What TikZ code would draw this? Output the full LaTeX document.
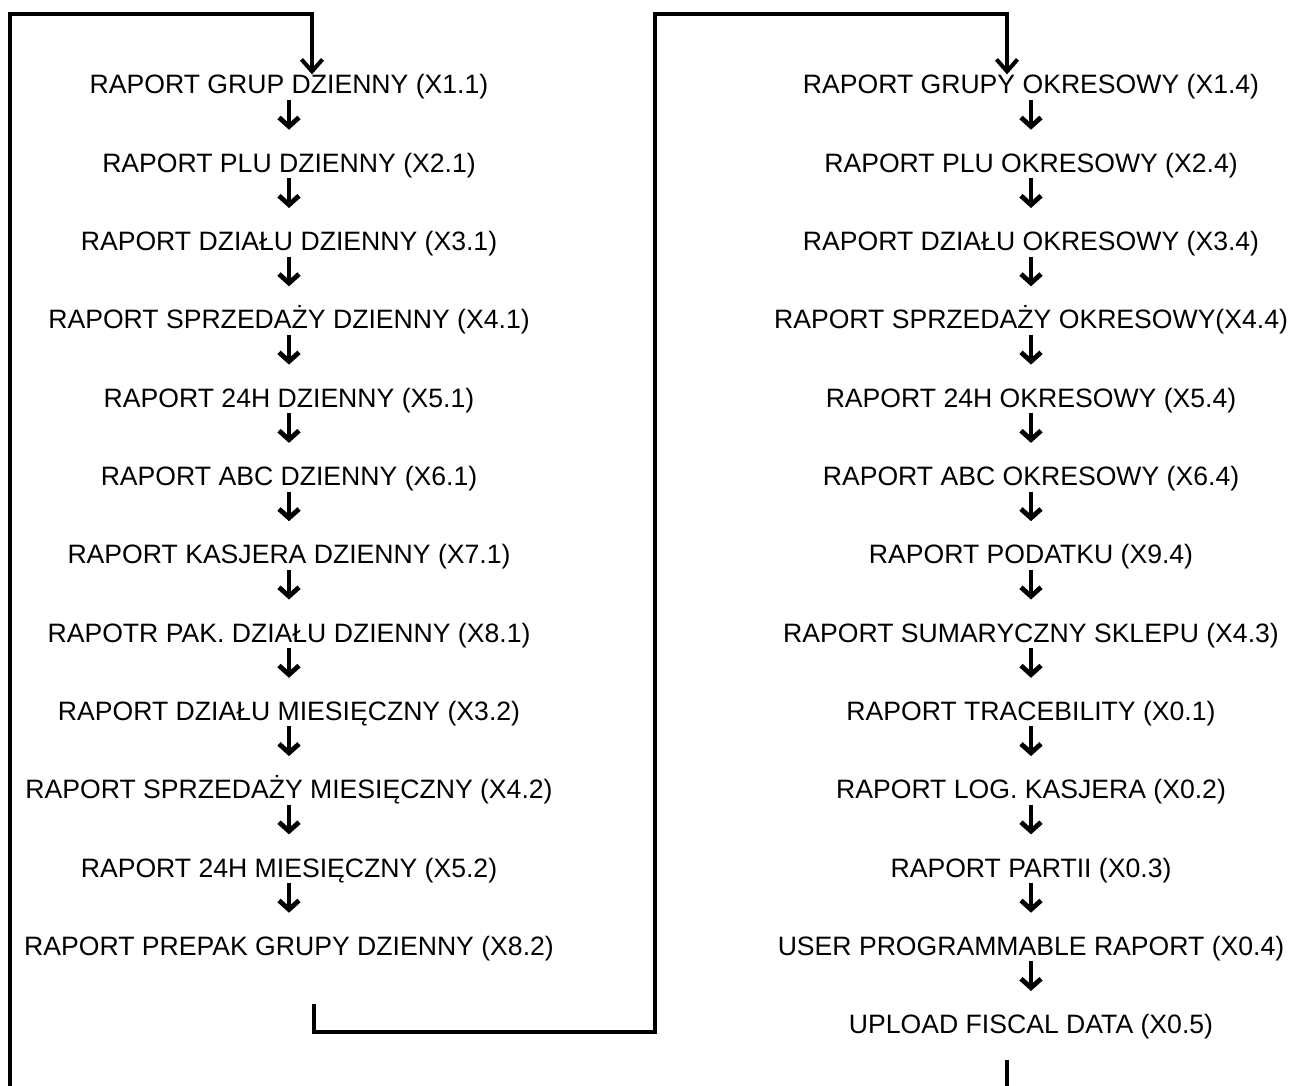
\documentclass[tikz,border=0pt]{standalone}
\usepackage{fontspec}
\setmainfont{Liberation Sans}
\usetikzlibrary{arrows.meta,positioning,calc}

\begin{document}
\begin{tikzpicture}[x=.5pt,y=-.5pt,
  rap/.style={anchor=base,inner sep=0,text height=9.6pt,text depth=2.8pt,
    font=\fontsize{13.3}{16}\selectfont},
  sm/.style={line width=1.7pt,-{Straight Barb[length=4.5pt,width=10pt,line width=2.4pt]},shorten >=11.5pt},
  big/.style={line width=2pt},
  bigtip/.style={big,-{Straight Barb[length=6pt,width=10.5pt]}}]
  \useasboundingbox (0,0) rectangle (1292,1086);
  % left column
  \foreach \t [count=\i] in {RAPORT GRUP DZIENNY (X1.1),RAPORT PLU DZIENNY (X2.1),
    RAPORT DZIAŁU DZIENNY (X3.1),RAPORT SPRZEDAŻY DZIENNY (X4.1),
    RAPORT 24H DZIENNY (X5.1),RAPORT ABC DZIENNY (X6.1),
    RAPORT KASJERA DZIENNY (X7.1),RAPOTR PAK. DZIAŁU DZIENNY (X8.1),
    RAPORT DZIAŁU MIESIĘCZNY (X3.2),RAPORT SPRZEDAŻY MIESIĘCZNY (X4.2),
    RAPORT 24H MIESIĘCZNY (X5.2),RAPORT PREPAK GRUPY DZIENNY (X8.2)}
    \node[rap] (l\i) at (289,{94+(\i-1)*78.3}) {\t};
  % right column
  \foreach \t [count=\i] in {RAPORT GRUPY OKRESOWY (X1.4),RAPORT PLU OKRESOWY (X2.4),
    RAPORT DZIAŁU OKRESOWY (X3.4),RAPORT SPRZEDAŻY OKRESOWY(X4.4),
    RAPORT 24H OKRESOWY (X5.4),RAPORT ABC OKRESOWY (X6.4),
    RAPORT PODATKU (X9.4),RAPORT SUMARYCZNY SKLEPU (X4.3),
    RAPORT TRACEBILITY (X0.1),RAPORT LOG. KASJERA (X0.2),
    RAPORT PARTII (X0.3),USER PROGRAMMABLE RAPORT (X0.4),
    UPLOAD FISCAL DATA (X0.5)}
    \node[rap] (r\i) at (1031,{94+(\i-1)*78.3}) {\t};
  \foreach \i [count=\j from 2] in {1,...,11}
    \draw[sm] (l\i) -- (l\j);
  \foreach \i [count=\j from 2] in {1,...,12}
    \draw[sm] (r\i) -- (r\j);
  % loops
  \coordinate (inL) at (10,1086);
  \coordinate (cL) at (312,14);
  \coordinate (outL) at (314,1004);
  \coordinate (mB) at (655,1032);
  \coordinate (cR) at (1007,14);
  \coordinate (outR) at (1007,1060);
  \coordinate (endR) at (1007,1086);
  \draw[bigtip] (inL) |- (cL) -- (cL |- l1.north);
  \draw[bigtip] (outL) |- (mB) |- (cR) -- (cR |- r1.north);
  \draw[big] (outR) -- (endR);
\end{tikzpicture}
\end{document}
